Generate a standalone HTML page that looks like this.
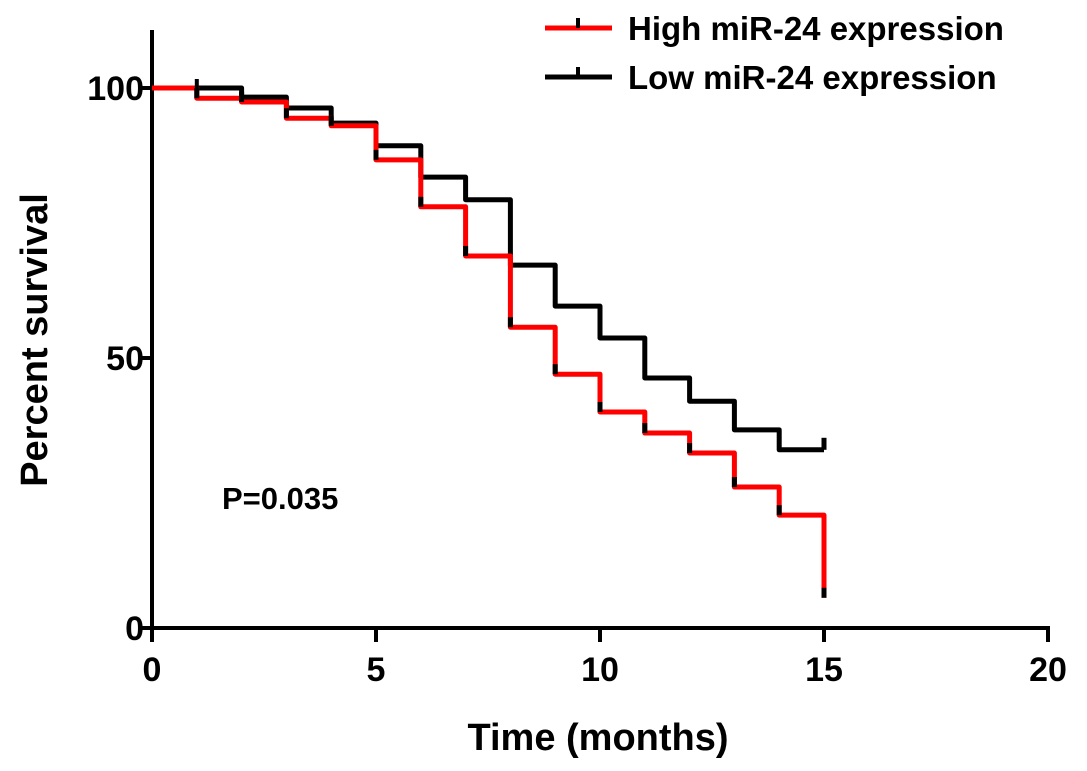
<!DOCTYPE html>
<html><head><meta charset="utf-8"><style>
body{margin:0;background:#fff}
svg{display:block;font-family:"Liberation Sans",Arial,sans-serif;font-weight:bold}
</style></head><body>
<svg id="chart" width="1087" height="771">
<g id="axes"></g><g id="series"></g>
<text x="222" y="509" font-size="31">P=0.035</text>
<text x="598" y="750" font-size="38" text-anchor="middle">Time (months)</text>
<text transform="translate(47,340) rotate(-90)" font-size="38" text-anchor="middle">Percent survival</text>
<g>
<g>
<line x1="545" y1="28" x2="612" y2="28" stroke="#f00" stroke-width="5"/><line x1="578" y1="18" x2="578" y2="28" stroke="#000" stroke-width="4"/>
<text x="628" y="40" font-size="33">High miR-24 expression</text></g>
<g>
<line x1="545" y1="77" x2="612" y2="77" stroke="#000" stroke-width="5"/><line x1="578" y1="67" x2="578" y2="77" stroke="#000" stroke-width="4"/>
<text x="628" y="89" font-size="33">Low miR-24 expression</text></g>
</g>
</svg>
<script>
const times=[0,1,2,3,4,5,6,7,8,9,10,11,12,13,14,15];
const highSurv=[100,98.1,97.4,94.4,93,86.7,78,68.9,55.7,47,40,36.1,32.4,26.1,20.9,5.6];
const lowSurv=[100,100,98.3,96.3,93.5,89.3,83.5,79.3,67.2,59.6,53.7,46.3,42,36.7,33,33];
const xTicks=[0,5,10,15,20];
const yTicks=[0,50,100];
const X=v=>152+v*44.8, Y=v=>628-v*5.4;
const NS="http://www.w3.org/2000/svg";
function mk(t,a,p){const e=document.createElementNS(NS,t);for(const k in a)e.setAttribute(k,a[k]);p.appendChild(e);return e;}
const ax=document.getElementById('axes');
let l=mk('line',{x1:X(0),y1:Y(0),x2:X(20)+2,y2:Y(0),stroke:'#000','stroke-width':4},ax);


l=mk('line',{x1:X(0),y1:30,x2:X(0),y2:Y(0)+2,stroke:'#000','stroke-width':4},ax);


xTicks.forEach(v=>{mk('line',{x1:X(v),y1:Y(0),x2:X(v),y2:Y(0)+14,stroke:'#000','stroke-width':4},ax);
const t=mk('text',{x:X(v),y:Y(0)+53,'font-size':34,'text-anchor':'middle'},ax);t.textContent=v;

});
yTicks.forEach(v=>{mk('line',{x1:X(0)-14,y1:Y(v),x2:X(0),y2:Y(v),stroke:'#000','stroke-width':4},ax);
const t=mk('text',{x:X(0)-8,y:Y(v)+12,'font-size':34,'text-anchor':'end'},ax);t.textContent=v;

});
const sg=document.getElementById('series');
function step(arr,color,name){let d='M'+X(times[0])+' '+Y(arr[0]);
for(let i=1;i<times.length;i++){d+=' H'+X(times[i])+' V'+Y(arr[i]);}
const p=mk('path',{d:d,fill:'none',stroke:color,'stroke-width':5,'stroke-linejoin':'round'},sg);

}
step(lowSurv,'#000','low-mir24-curve');
step(highSurv,'#f00','high-mir24-curve');
for(let i=1;i<times.length;i++){if(highSurv[i]<highSurv[i-1]){const c=mk('line',{x1:X(times[i]),y1:Y(highSurv[i])-10,x2:X(times[i]),y2:Y(highSurv[i]),stroke:'#000','stroke-width':5},sg);

}}
let c=mk('line',{x1:X(1),y1:Y(100)-9,x2:X(1),y2:Y(100)+9,stroke:'#000','stroke-width':4},sg);


c=mk('line',{x1:X(15),y1:Y(33)-12,x2:X(15),y2:Y(33),stroke:'#000','stroke-width':5},sg);


</script>
</body></html>
